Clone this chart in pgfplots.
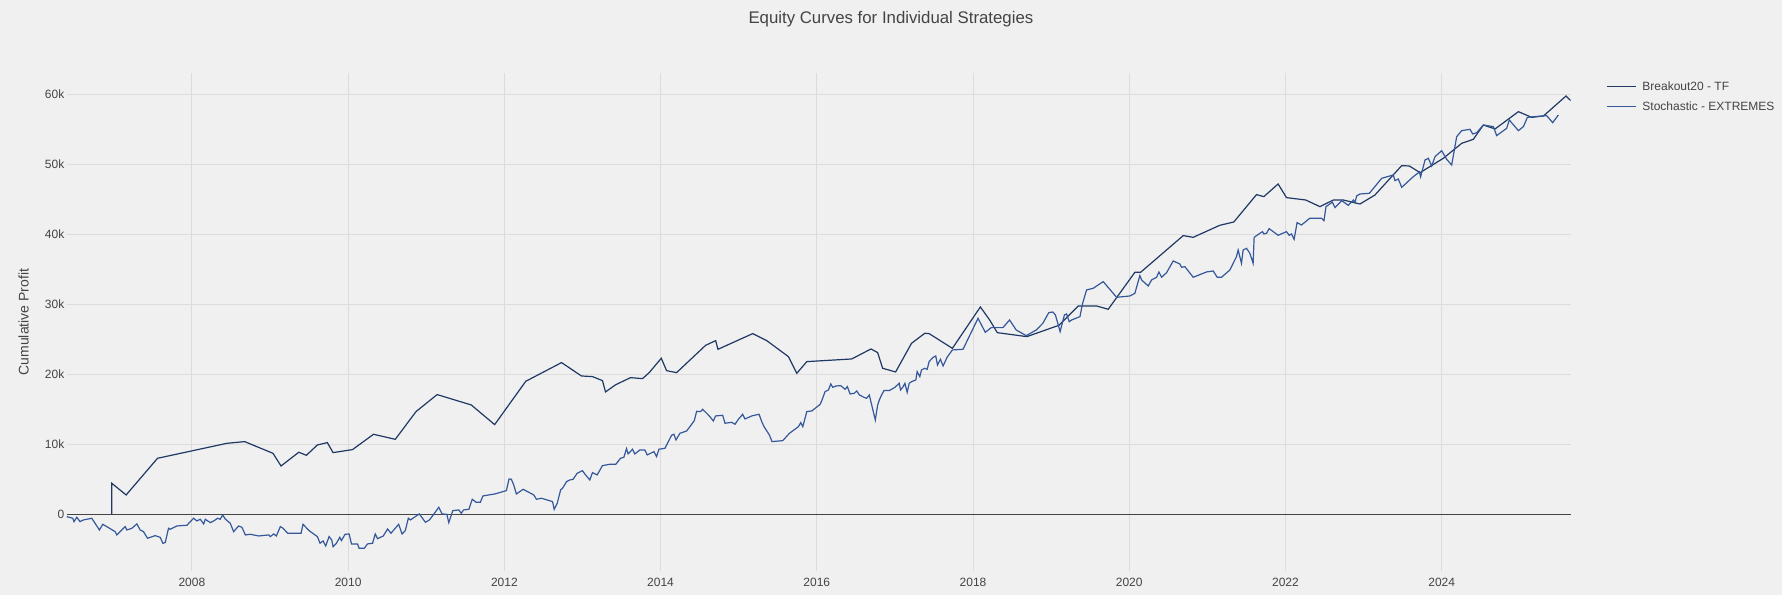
\documentclass[border=0pt]{standalone}
\usepackage{pgfplots}
\pgfplotsset{compat=1.18}
\usepackage{pgfplotstable}
\usepackage{fontspec}
\setmainfont{Liberation Sans}

\definecolor{bg}{HTML}{F0F0F0}
\definecolor{gridc}{HTML}{DCDCDC}
\definecolor{txt}{HTML}{444444}
\definecolor{breakc}{HTML}{1F3864}
\definecolor{stochc}{HTML}{34589A}

% cumulative profit in thousands
\pgfplotstableread{
year profit
2006.974 0
2006.974 4.43
2007.158 2.76
2007.560 8.00
2008.449 10.14
2008.675 10.38
2009.038 8.71
2009.141 6.90
2009.368 8.86
2009.466 8.43
2009.606 9.90
2009.734 10.24
2009.807 8.81
2010.056 9.24
2010.325 11.43
2010.604 10.71
2010.869 14.67
2011.139 17.10
2011.576 15.62
2011.876 12.81
2012.274 19.00
2012.732 21.67
2012.987 19.76
2013.128 19.67
2013.256 19.10
2013.295 17.48
2013.427 18.52
2013.615 19.52
2013.769 19.38
2013.855 20.24
2014.009 22.29
2014.077 20.52
2014.205 20.24
2014.577 24.14
2014.705 24.81
2014.735 23.57
2015.179 25.81
2015.359 24.81
2015.637 22.52
2015.744 20.14
2015.872 21.81
2016.447 22.19
2016.694 23.62
2016.779 23.10
2016.843 20.86
2017.009 20.33
2017.213 24.43
2017.383 25.86
2017.438 25.81
2017.736 23.71
2018.094 29.62
2018.213 27.76
2018.311 25.95
2018.689 25.38
2019.100 27.00
2019.348 29.76
2019.582 29.76
2019.731 29.29
2020.072 34.57
2020.145 34.57
2020.691 39.81
2020.819 39.57
2021.160 41.29
2021.339 41.76
2021.629 45.67
2021.723 45.38
2021.906 47.19
2022.013 45.24
2022.260 44.90
2022.442 43.95
2022.613 44.90
2022.741 44.90
2022.954 44.33
2023.146 45.62
2023.488 49.81
2023.586 49.76
2023.723 48.81
2024.021 50.86
2024.256 53.00
2024.405 53.57
2024.534 55.62
2024.683 55.05
2024.982 57.52
2025.152 56.71
2025.302 56.90
2025.592 59.76
2025.652 59.10
}\breakout

\pgfplotstableread{
year profit
2006.397 -0.33
2006.474 -0.57
2006.491 -1.05
2006.526 -0.43
2006.568 -1.05
2006.611 -0.81
2006.718 -0.57
2006.816 -2.24
2006.859 -1.43
2007.017 -2.48
2007.038 -2.95
2007.145 -1.76
2007.167 -2.24
2007.231 -2.00
2007.295 -1.38
2007.338 -2.24
2007.380 -2.48
2007.432 -3.43
2007.530 -3.05
2007.594 -3.29
2007.628 -4.14
2007.658 -4.05
2007.701 -2.00
2007.722 -2.14
2007.808 -1.67
2007.936 -1.57
2008.021 -0.57
2008.064 -0.95
2008.107 -0.71
2008.150 -1.38
2008.171 -0.71
2008.235 -1.19
2008.286 -0.90
2008.329 -0.57
2008.363 -0.71
2008.393 -0.10
2008.427 -0.67
2008.491 -1.29
2008.534 -2.48
2008.598 -1.67
2008.641 -1.86
2008.684 -2.95
2008.748 -2.86
2008.855 -3.10
2008.983 -2.95
2009.004 -3.19
2009.047 -2.81
2009.081 -3.10
2009.132 -1.76
2009.167 -2.00
2009.226 -2.71
2009.397 -2.71
2009.423 -1.43
2009.499 -2.33
2009.606 -3.19
2009.640 -4.14
2009.679 -3.81
2009.713 -4.52
2009.756 -3.19
2009.790 -3.67
2009.807 -4.62
2009.850 -4.14
2009.893 -3.29
2009.914 -3.76
2009.961 -2.86
2010.013 -2.81
2010.043 -4.24
2010.120 -4.24
2010.141 -4.86
2010.206 -4.86
2010.248 -4.24
2010.313 -4.14
2010.347 -2.81
2010.377 -3.48
2010.450 -3.10
2010.505 -2.10
2010.548 -2.71
2010.647 -1.43
2010.690 -2.81
2010.732 -2.33
2010.771 -0.57
2010.797 -0.81
2010.912 0.05
2010.989 -1.14
2011.041 -0.81
2011.105 0.14
2011.161 1.00
2011.203 0.05
2011.263 0.00
2011.289 -1.19
2011.340 0.52
2011.418 0.62
2011.448 0.14
2011.478 0.62
2011.546 0.71
2011.589 2.14
2011.640 1.71
2011.692 1.71
2011.726 2.62
2011.876 2.90
2012.026 3.38
2012.060 5.05
2012.090 5.00
2012.120 4.19
2012.154 2.90
2012.240 3.57
2012.377 2.76
2012.411 2.14
2012.475 2.29
2012.617 1.81
2012.638 0.71
2012.677 1.57
2012.720 3.48
2012.745 3.71
2012.797 4.67
2012.838 4.90
2012.880 5.00
2012.932 5.86
2013.000 6.24
2013.030 5.76
2013.094 4.90
2013.128 5.95
2013.188 5.62
2013.256 6.95
2013.350 7.14
2013.427 7.14
2013.487 8.00
2013.530 8.14
2013.564 9.38
2013.585 8.62
2013.641 9.29
2013.671 8.62
2013.735 9.19
2013.799 9.19
2013.829 8.48
2013.915 8.95
2013.949 8.24
2013.979 9.29
2014.056 9.43
2014.141 11.29
2014.171 11.43
2014.197 10.62
2014.248 11.57
2014.333 11.90
2014.376 12.52
2014.432 13.38
2014.462 14.71
2014.513 14.67
2014.538 15.00
2014.590 14.43
2014.632 13.95
2014.675 13.33
2014.705 14.05
2014.795 14.14
2014.825 13.00
2014.910 13.14
2014.953 12.86
2014.996 13.57
2015.051 14.29
2015.081 13.62
2015.167 14.05
2015.261 14.29
2015.295 13.24
2015.325 12.52
2015.393 11.33
2015.427 10.38
2015.564 10.52
2015.650 11.57
2015.765 12.52
2015.795 13.10
2015.821 12.52
2015.872 14.67
2015.936 14.76
2016.043 15.71
2016.064 16.24
2016.106 17.52
2016.149 17.76
2016.179 18.62
2016.204 18.14
2016.247 18.33
2016.306 18.38
2016.362 17.86
2016.391 18.24
2016.426 17.19
2016.481 17.29
2016.511 17.62
2016.545 17.05
2016.604 16.71
2016.638 16.57
2016.672 17.05
2016.749 13.47
2016.779 15.61
2016.800 16.33
2016.830 17.05
2016.860 17.67
2016.928 17.67
2017.000 18.14
2017.055 18.71
2017.072 17.76
2017.106 18.24
2017.128 18.71
2017.157 17.43
2017.183 18.71
2017.213 18.95
2017.268 19.19
2017.285 20.38
2017.319 19.67
2017.340 20.62
2017.383 20.86
2017.413 20.71
2017.438 21.81
2017.489 22.43
2017.523 22.62
2017.545 21.33
2017.583 22.14
2017.617 21.19
2017.668 22.43
2017.736 23.48
2017.872 23.57
2018.064 28.00
2018.157 26.00
2018.234 26.67
2018.383 26.67
2018.468 27.76
2018.553 26.33
2018.681 25.52
2018.809 26.33
2018.894 27.29
2018.970 28.81
2019.021 28.90
2019.055 28.48
2019.085 27.29
2019.115 26.10
2019.170 28.48
2019.198 28.62
2019.232 27.52
2019.262 27.76
2019.369 28.24
2019.403 30.14
2019.454 32.05
2019.539 32.29
2019.667 33.24
2019.838 31.00
2020.009 31.19
2020.072 31.57
2020.136 34.10
2020.158 33.48
2020.243 32.62
2020.286 33.48
2020.350 33.86
2020.380 34.62
2020.414 33.86
2020.478 34.52
2020.563 36.19
2020.648 35.76
2020.670 35.29
2020.712 35.38
2020.819 33.86
2020.989 34.62
2021.075 34.76
2021.126 33.86
2021.181 33.86
2021.288 34.90
2021.373 36.81
2021.394 37.76
2021.437 35.86
2021.458 37.76
2021.501 38.00
2021.544 37.29
2021.586 35.86
2021.599 39.57
2021.672 40.14
2021.706 40.38
2021.723 40.05
2021.757 40.14
2021.791 40.81
2021.906 39.86
2022.013 40.38
2022.047 39.86
2022.077 40.05
2022.111 39.29
2022.149 41.67
2022.205 41.33
2022.311 42.29
2022.463 42.29
2022.493 41.95
2022.519 43.95
2022.600 44.60
2022.634 43.81
2022.720 44.81
2022.805 44.14
2022.869 44.90
2022.890 44.52
2022.911 45.48
2022.954 45.76
2023.074 45.86
2023.232 48.00
2023.381 48.48
2023.402 47.67
2023.445 47.90
2023.488 46.71
2023.637 48.24
2023.715 48.90
2023.730 48.20
2023.787 50.62
2023.829 50.86
2023.872 49.76
2023.915 51.10
2024.000 51.95
2024.064 50.71
2024.128 49.90
2024.192 53.95
2024.256 54.81
2024.363 55.00
2024.397 54.33
2024.448 54.52
2024.534 55.62
2024.662 55.38
2024.704 54.10
2024.832 55.14
2024.866 56.33
2024.982 54.81
2025.046 55.38
2025.097 56.71
2025.182 56.81
2025.344 56.95
2025.421 55.95
2025.494 57.05
}\stochastic

\begin{document}
\begin{tikzpicture}
\fill[bg] (0,0) rectangle (1782bp,595bp);
\useasboundingbox (0,0) rectangle (1782bp,595bp);
\begin{axis}[
  at={(66.7bp,24.1bp)}, anchor=south west,
  scale only axis, width=1504bp, height=497.5bp,
  xmin=2006.397, xmax=2025.652, ymin=-8.09, ymax=62.99,
  axis line style={draw=none},
  major tick length=0pt,
  /pgf/number format/assume math mode=true,
  xtick={2008,2010,...,2024},
  xticklabels={2008,2010,2012,2014,2016,2018,2020,2022,2024},
  ytick={0,10,...,60},
  yticklabels={0,10k,20k,30k,40k,50k,60k},
  grid=major,
  major grid style={gridc, line width=1bp},
  extra y ticks={0}, extra y tick labels={},
  extra y tick style={grid=major, major grid style={txt, line width=1.3bp}},
  every tick label/.append style={font=\fontsize{12bp}{14bp}\selectfont, text=txt},
  yticklabel style={anchor=east, inner sep=0pt, xshift=-2.2bp},
  xticklabel style={anchor=north, inner sep=0pt, yshift=-7.5bp},
  ylabel={Cumulative Profit},
  ylabel style={at={(axis description cs:-0.0287,0.5)}, anchor=center,
    font=\fontsize{14bp}{16bp}\selectfont, text=txt},
  title={Equity Curves for Individual Strategies},
  title style={at={(axis description cs:0.548,1.096)}, anchor=center,
    font=\fontsize{16.8bp}{19bp}\selectfont, text=txt},
  legend style={at={(axis description cs:1.0235,0.953)}, anchor=west,
    draw=none, fill=none, inner sep=0pt, row sep=6bp,
    nodes={inner xsep=0pt},
    font=\fontsize{12bp}{14bp}\selectfont, text=txt,
    /tikz/every odd column/.style={column sep=6bp}},
  legend cell align=left,
  legend image code/.code={\draw[#1] (0bp,0bp) -- (29bp,0bp);},
]
\addplot[breakc, line width=1.2bp] table[x=year, y=profit] {\breakout};
\addlegendentry{Breakout20 - TF}
\addplot[stochc, line width=1.2bp] table[x=year, y=profit] {\stochastic};
\addlegendentry{Stochastic - EXTREMES}
\end{axis}
\end{tikzpicture}
\end{document}
